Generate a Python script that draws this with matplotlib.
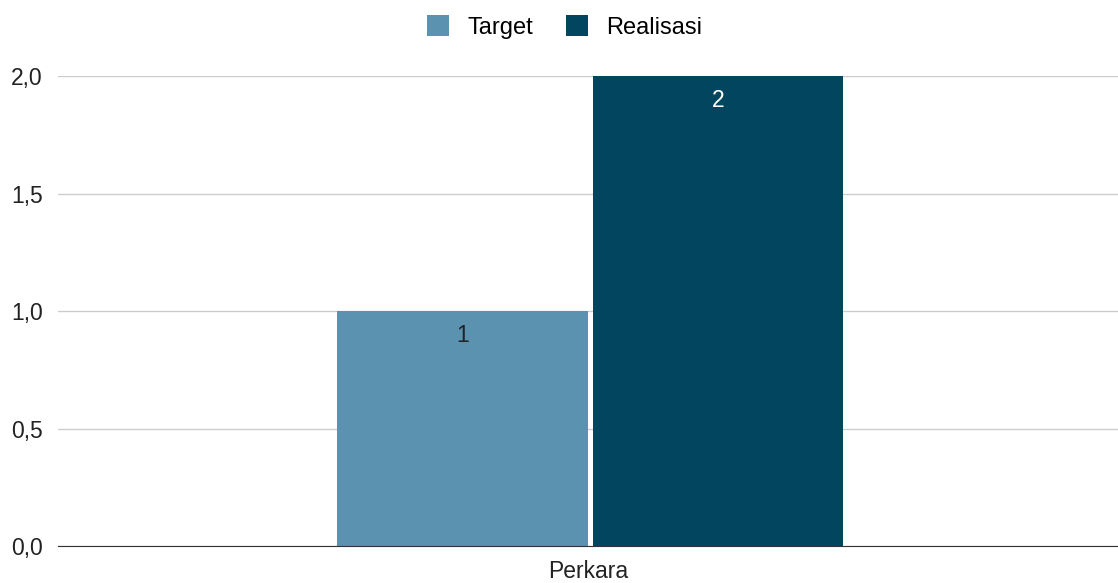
import matplotlib
matplotlib.use("Agg")
import matplotlib.pyplot as plt
from matplotlib.patches import Patch

plt.rcParams['font.family'] = ['Liberation Sans', 'DejaVu Sans']

categories = ['Perkara']
series_names = ['Target', 'Realisasi']
target = [1]
realisasi = [2]
yticks = [0.0, 0.5, 1.0, 1.5, 2.0]
ytick_labels = ['0,0', '0,5', '1,0', '1,5', '2,0']

colors = ['#5a92b0', '#01455f']
label_colors = ['#222222', '#ffffff']
fs = 16.5

fig = plt.figure(figsize=(11.18, 5.83), dpi=100)
ax = fig.add_axes([0.052, 0.0635, 0.948, 0.806])

width = 0.236
offsets = [-0.1185, 0.1225]
for vals, off, c, lc in zip([target, realisasi], offsets, colors, label_colors):
    xs = [i + off for i in range(len(categories))]
    bars = ax.bar(xs, vals, width=width, color=c, zorder=3)
    for b, v in zip(bars, vals):
        ax.text(b.get_x() + b.get_width() / 2, v - 0.105, str(v),
                ha='center', va='center', color=lc, fontsize=fs, zorder=4)

ax.set_xlim(-0.5, 0.5)
ax.set_ylim(0, 2.0)
ax.set_yticks(yticks)
ax.set_yticklabels(ytick_labels)
ax.set_xticks(range(len(categories)))
ax.set_xticklabels(categories)
ax.tick_params(axis='both', length=0, labelsize=fs, colors='#222222')
ax.tick_params(axis='y', pad=11)
ax.tick_params(axis='x', pad=10)
ax.grid(axis='y', color='#cccccc', linewidth=1, zorder=0)
for s in ['top', 'right', 'left']:
    ax.spines[s].set_visible(False)
ax.spines['bottom'].set_color('#333333')
ax.spines['bottom'].set_zorder(5)

handles = [Patch(facecolor=c, label=n) for c, n in zip(colors, series_names)]
fig.legend(handles=handles, loc='upper center', bbox_to_anchor=(0.505, 1.01),
           ncol=2, frameon=False, fontsize=17, handlelength=0.95,
           handleheight=0.95, handletextpad=0.75, columnspacing=1.4)

fig.savefig('out.png', dpi=100)
